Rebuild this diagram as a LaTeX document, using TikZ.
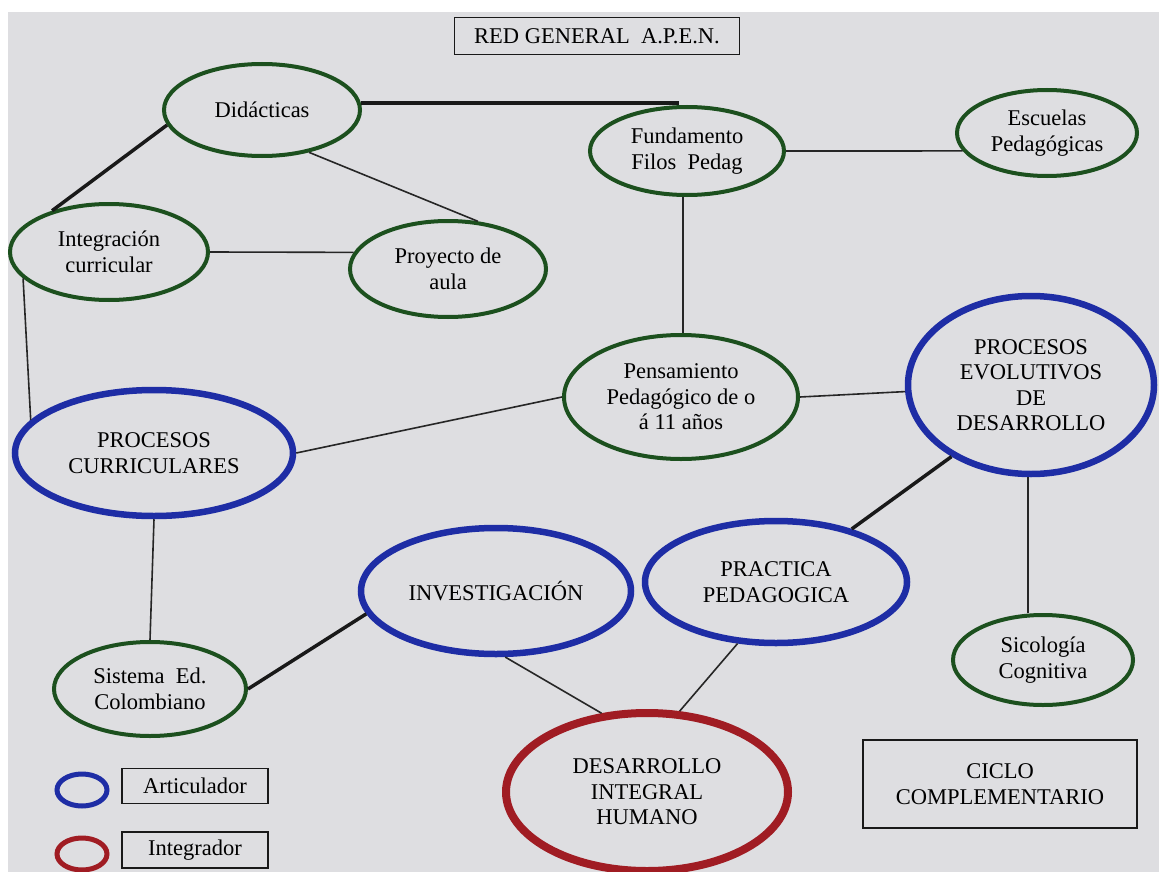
\documentclass[tikz,border=0pt]{standalone}
\usepackage{fontspec}
\setmainfont{Liberation Serif}
\usetikzlibrary{shapes.geometric}
\definecolor{paper}{RGB}{222,222,225}
\definecolor{eg}{RGB}{28,80,30}
\definecolor{eb}{RGB}{30,45,165}
\definecolor{er}{RGB}{160,28,35}
\begin{document}
\begin{tikzpicture}[x=1pt,y=-1pt,
  every node/.style={font=\fontsize{22.5}{25.5}\selectfont, align=center, text=black},
  gell/.style={ellipse, draw=eg, line width=4pt, inner sep=0pt},
  bell/.style={ellipse, draw=eb, line width=6.5pt, inner sep=0pt},
  rell/.style={ellipse, draw=er, line width=8pt, inner sep=0pt},
  lbox/.style={draw=black!90, line width=1.6pt, inner sep=0pt},
  conn/.style={line width=1.6pt, draw=black!85},
  tconn/.style={line width=3.5pt, draw=black!90}]
\useasboundingbox (0,0) rectangle (1159,872);
\fill[white] (0,0) rectangle (1159,872);
\fill[paper] (8,12) rectangle (1159,872);

% title
\node[lbox, minimum width=285, minimum height=37] (title) at (597,36) {RED GENERAL\ \ A.P.E.N.};

% green ellipses
\node[gell, minimum width=196, minimum height=92] (did) at (262,110) {Didácticas};
\node[gell, minimum width=194, minimum height=88] (fund) at (687,151) {Fundamento\\Filos\ \ Pedag};
\node[gell, minimum width=180, minimum height=86] (esc) at (1047,133) {Escuelas\\Pedagógicas};
\node[gell, minimum width=198, minimum height=96] (integ) at (109,252) {Integración\\curricular};
\node[gell, minimum width=196, minimum height=96] (proy) at (448,269) {Proyecto de\\aula};
\node[gell, minimum width=234, minimum height=124] (pens) at (681,397) {Pensamiento\\Pedagógico de o\\á 11 años};
\node[gell, minimum width=180, minimum height=90] (sico) at (1043,660) {Sicología\\Cognitiva};
\node[gell, minimum width=192, minimum height=94] (sis) at (150,689) {Sistema\ \ Ed.\\Colombiano};

% blue ellipses
\node[bell, minimum width=246, minimum height=178] (pevol) at (1031,385) {PROCESOS\\EVOLUTIVOS\\DE\\DESARROLLO};
\node[bell, minimum width=278, minimum height=126] (pcur) at (154,453) {PROCESOS\\CURRICULARES};
\node[bell, minimum width=270, minimum height=126] (inv) at (496,591) {INVESTIGACIÓN};
\node[bell, minimum width=262, minimum height=122] (prac) at (776,582) {PRACTICA\\PEDAGOGICA};

% red ellipse
\node[rell, minimum width=282, minimum height=158] (dih) at (647,792) {DESARROLLO\\INTEGRAL\\HUMANO};

% ciclo box
\node[lbox, minimum width=274, minimum height=88] (ciclo) at (1000,784) {CICLO\\COMPLEMENTARIO};

% legend
\node[ellipse, draw=eb, line width=5pt, minimum width=50, minimum height=32, inner sep=0pt] (lb) at (82,790) {};
\node[ellipse, draw=er, line width=5pt, minimum width=50, minimum height=32, inner sep=0pt] (lr) at (82,854) {};
\node[lbox, minimum width=146, minimum height=35] (art) at (195,786) {Articulador};
\node[lbox, minimum width=146, minimum height=36] (intg) at (195,850) {Integrador};

% connectors
\draw[tconn] (did.4) -- (did.4 -| fund.100);
\draw[tconn] (did.189) -- (integ.144);
\draw[conn] (did.318) -- (proy.58);
\draw[conn] (integ.east) -- (proy.170);
\draw[conn] (integ.197) -- (pcur.165);
\draw[conn] (fund.east) -- (esc.192);
\draw[conn] (fund.265) -- (fund.265 |- pens.north);
\draw[conn] (pens.west) -- (pcur.east);
\draw[conn] (pens.east) -- (pevol.183);
\draw[tconn] (pevol.222) -- (prac.35);
\draw[conn] (pevol.268) -- (pevol.268 |- sico.north);
\draw[conn] (pcur.south) -- (sis.north);
\draw[tconn] (inv.190) -- (sis.east);
\draw[conn] (inv.278) -- (dih.120);
\draw[conn] (prac.238) -- (dih.68);
\end{tikzpicture}
\end{document}
